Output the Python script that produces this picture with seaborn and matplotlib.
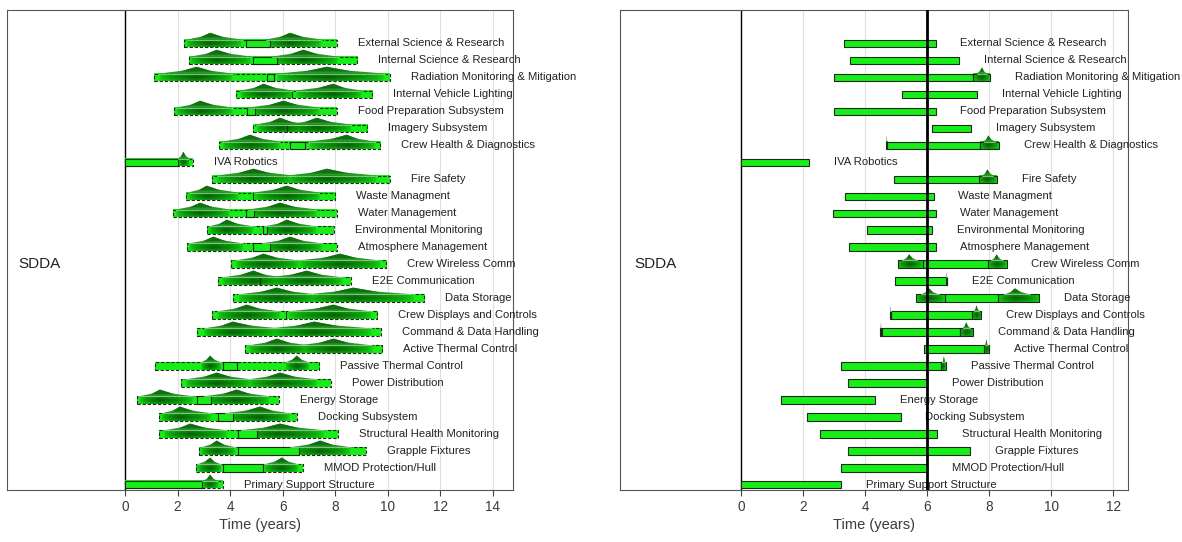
import numpy as np
import matplotlib
matplotlib.use("Agg")
import matplotlib.pyplot as plt
from matplotlib.patches import Polygon
from matplotlib.colors import to_rgb
import seaborn as sns

# ---------------------------------------------------------------- data
subsystems = [
    "External Science & Research", "Internal Science & Research",
    "Radiation Monitoring & Mitigation", "Internal Vehicle Lighting",
    "Food Preparation Subsystem", "Imagery Subsystem",
    "Crew Health & Diagnostics", "IVA Robotics", "Fire Safety",
    "Waste Managment", "Water Management", "Environmental Monitoring",
    "Atmosphere Management", "Crew Wireless Comm", "E2E Communication",
    "Data Storage", "Crew Displays and Controls", "Command & Data Handling",
    "Active Thermal Control", "Passive Thermal Control", "Power Distribution",
    "Energy Storage", "Docking Subsystem", "Structural Health Monitoring",
    "Grapple Fixtures", "MMOD Protection/Hull", "Primary Support Structure",
]

# Life-cycle view: overall span, fixed (certain) segments, split marks and
# triangular uncertainty distributions (low, mode, high) in years
life_start = [2.26, 2.45, 1.12, 4.24, 1.87, 4.86, 3.58, 0.00, 3.33, 2.31,
              1.84, 3.14, 2.37, 4.02, 3.55, 4.10, 3.30, 2.75, 4.55, 1.14,
              2.13, 0.47, 1.31, 1.31, 2.83, 2.70, 0.00]
life_end = [8.08, 8.85, 10.09, 9.42, 8.06, 9.23, 9.71, 2.58, 10.09, 8.00,
            8.06, 7.96, 8.06, 9.93, 8.60, 11.39, 9.61, 9.74, 9.77, 7.40,
            7.83, 5.86, 6.56, 8.12, 9.18, 6.77, 3.72]
life_fixed = [
    [(4.61, 5.52)], [(4.89, 5.78)], [(5.39, 5.67)], [], [(4.63, 4.95)], [],
    [(6.28, 6.85)], [(0.00, 2.03)], [], [], [(4.60, 4.91)], [(5.27, 5.42)],
    [(4.89, 5.52)], [], [], [], [], [], [], [(3.72, 4.28)], [],
    [(2.73, 3.26)], [(3.55, 4.13)], [(4.29, 5.01)], [(4.32, 6.64)],
    [(3.72, 5.27)], [(0.00, 2.92)],
]
life_marks = [
    [], [], [], [6.35], [], [6.16], [], [], [], [4.86], [], [], [], [],
    [5.14], [], [6.12], [], [], [], [], [], [], [], [], [], [],
]
life_hats = [
    [(2.35, 3.24, 4.45), (5.35, 6.28, 7.50)],
    [(2.50, 3.49, 4.80), (5.60, 6.79, 8.10)],
    [(1.30, 2.73, 4.10), (5.80, 7.68, 9.90)],
    [(4.40, 5.27, 6.40), (6.50, 7.93, 9.00)],
    [(1.95, 2.86, 4.10), (4.70, 6.03, 7.40)],
    [(5.00, 5.90, 7.00), (6.20, 7.30, 8.60)],
    [(3.70, 4.76, 5.90), (7.00, 8.44, 9.50)],
    [(2.03, 2.22, 2.45)],
    [(3.50, 4.89, 6.40), (6.20, 7.68, 9.60)],
    [(2.40, 3.11, 4.30), (4.90, 6.16, 7.40)],
    [(1.95, 2.86, 4.00), (4.70, 5.90, 7.30)],
    [(3.20, 3.87, 4.90), (5.30, 6.16, 7.30)],
    [(2.45, 3.36, 4.50), (5.20, 6.28, 7.50)],
    [(4.20, 5.27, 6.60), (6.60, 8.19, 9.70)],
    [(3.70, 4.89, 6.00), (5.40, 6.92, 8.30)],
    [(4.30, 5.78, 7.30), (6.90, 8.69, 11.00)],
    [(3.50, 4.63, 5.90), (6.20, 7.93, 9.40)],
    [(3.00, 4.10, 5.90), (5.50, 7.20, 9.40)],
    [(4.70, 5.78, 7.00), (6.60, 7.93, 9.40)],
    [(2.90, 3.24, 3.65), (6.10, 6.54, 7.00)],
    [(2.30, 3.49, 4.80), (4.70, 5.90, 7.30)],
    [(0.55, 1.33, 2.60), (3.00, 4.25, 5.50)],
    [(1.40, 2.09, 3.30), (3.80, 5.14, 6.30)],
    [(1.50, 2.48, 3.90), (4.40, 5.90, 7.60)],
    [(2.90, 3.49, 4.20), (6.30, 7.43, 8.60)],
    [(2.75, 3.24, 3.65), (5.30, 5.97, 6.60)],
    [(2.95, 3.24, 3.55)],
]

# Operations view: deterministic span plus uncertain end regions
ops_start = [3.32, 3.52, 2.98, 5.19, 2.99, 6.16, 4.70, 0.00, 4.92, 3.34,
             2.96, 4.07, 3.47, 5.85, 4.97, 6.57, 4.82, 4.51, 5.90, 3.23,
             3.45, 1.29, 2.13, 2.53, 3.45, 3.23, 0.00]
ops_end = [6.27, 7.02, 7.48, 7.62, 6.27, 7.42, 7.72, 2.18, 7.68, 6.21,
           6.27, 6.16, 6.27, 7.95, 6.64, 8.27, 7.45, 7.06, 7.83, 6.46,
           6.00, 4.33, 5.14, 6.32, 7.38, 6.00, 3.23]
ops_hats = [
    [], [], [(7.48, 7.77, 8.02)], [], [], [],
    [(4.68, 4.70, 4.72), (7.72, 7.97, 8.32)], [],
    [(7.68, 7.94, 8.26)], [], [], [], [],
    [(5.06, 5.42, 5.85), (7.95, 8.24, 8.56)],
    [(6.61, 6.63, 6.65)],
    [(5.65, 6.06, 6.57), (8.27, 8.83, 9.62)],
    [(4.80, 4.82, 4.84), (7.45, 7.59, 7.75)],
    [(4.49, 4.51, 4.53), (7.06, 7.26, 7.48)],
    [(7.83, 7.91, 8.00)],
    [(6.46, 6.54, 6.62)],
    [], [], [], [], [], [], [],
]

life_ticks = list(range(0, 15, 2))
ops_ticks = list(range(0, 13, 2))
group_label = "SDDA"
now_year = 6

# ---------------------------------------------------------------- style
sns.set_theme(style="white")
plt.rcParams["font.family"] = ["Liberation Sans", "DejaVu Sans"]
plt.rcParams["image.composite_image"] = False

LIME = np.array(to_rgb("#17ee17"))
DARK = np.array(to_rgb("#034f03"))
EDGE = "#1c2a1c"
HAT_LIGHT = "#2e952e"
HAT_DARK = "#107010"
BAR_H = 0.42

n = len(subsystems)
ypos = np.arange(n, 0, -1)


def tri_profile(xs, hats):
    v = np.zeros_like(xs)
    for lo, mode, hi in hats:
        up = np.clip((xs - lo) / max(mode - lo, 1e-6), 0, 1)
        dn = np.clip((hi - xs) / max(hi - mode, 1e-6), 0, 1)
        t = np.where(xs <= mode, up, dn)
        t[(xs < lo) | (xs > hi)] = 0
        v = np.maximum(v, t)
    return v


def shade(ax, x0, x1, y, hats, strength=0.9):
    xs = np.linspace(x0, x1, 300)
    v = tri_profile(xs, hats) ** 0.45
    ys = np.linspace(-1, 1, 11)
    f = 0.55 + 0.45 * (1 - np.abs(ys)) ** 0.6
    w = strength * v[None, :] * f[:, None]
    img = LIME[None, None, :] * (1 - w[..., None]) + DARK[None, None, :] * w[..., None]
    ax.imshow(img, extent=(x0, x1, y - BAR_H / 2, y + BAR_H / 2),
              aspect="auto", interpolation="bilinear", origin="lower",
              zorder=2)


def hat(ax, lo, mode, hi, ybase, hh):
    outer = [(lo, ybase), (mode - 0.35 * (mode - lo), ybase + 0.45 * hh),
             (mode, ybase + hh), (mode + 0.35 * (hi - mode), ybase + 0.45 * hh),
             (hi, ybase)]
    ax.add_patch(Polygon(outer, closed=True, facecolor=HAT_LIGHT,
                         edgecolor="none", zorder=4))
    inner = [(mode - 0.45 * (mode - lo), ybase + 0.3 * hh), (mode, ybase + hh),
             (mode + 0.45 * (hi - mode), ybase + 0.3 * hh)]
    ax.add_patch(Polygon(inner, closed=True, facecolor=HAT_DARK,
                         edgecolor="none", zorder=4.1))
    ax.plot([lo, hi], [ybase, ybase], color="#8fd88f", lw=0.6, zorder=4.2)


def frame(ax, ticks, xlim, label_x):
    ax.set_xlim(*xlim)
    ax.set_ylim(0.7, 28.95)
    ax.set_xticks(ticks)
    ax.set_xticklabels([str(t) for t in ticks])
    ax.set_yticks([])
    ax.grid(axis="x", color="#e0e0e0", lw=0.8)
    ax.grid(axis="y", visible=False)
    ax.set_axisbelow(True)
    ax.axvline(0, color="black", lw=1.0, zorder=1.5)
    ax.tick_params(axis="x", bottom=True, direction="out", length=4,
                   width=0.8, color="#444444", labelsize=9.8,
                   labelcolor="#3a3a3a", pad=3)
    for s in ax.spines.values():
        s.set_color("#555555")
        s.set_linewidth(0.8)
    ax.set_xlabel("Time (years)", fontsize=10.5, color="#3a3a3a", labelpad=3)
    ax.text(label_x, 14, group_label, fontsize=11, va="center", ha="left",
            color="#222222")


fig = plt.figure(figsize=(11.82, 5.42), dpi=100)
ax1 = fig.add_axes([0.0057, 0.0959, 0.4281, 0.8856])
ax2 = fig.add_axes([0.5245, 0.0959, 0.4296, 0.8856])

# ---------------------------------------------------------------- life-cycle panel
for i, name in enumerate(subsystems):
    y = ypos[i]
    s, e = life_start[i], life_end[i]
    shade(ax1, s, e, y, life_hats[i])
    ax1.barh(y, e - s, left=s, height=BAR_H, fill=False, edgecolor=EDGE,
             linestyle=(0, (3, 1.6)), linewidth=0.8, zorder=3)
    for a, b in life_fixed[i]:
        ax1.barh(y, b - a, left=a, height=BAR_H, color=LIME, edgecolor=EDGE,
                 linewidth=0.8, zorder=3.5)
    for m in life_marks[i]:
        ax1.vlines(m, y - BAR_H / 2, y + BAR_H / 2, color=EDGE, lw=0.8,
                   zorder=3.5)
    for lo, mode, hi in life_hats[i]:
        hat(ax1, lo, mode, hi, y + BAR_H / 2, 0.4)
    ax1.text(e + 0.8, y, name, fontsize=8.1, va="center", ha="left",
             color="#222222", zorder=5)

frame(ax1, life_ticks, (-4.5, 14.76), -4.07)

# ---------------------------------------------------------------- operations panel
for i, name in enumerate(subsystems):
    y = ypos[i]
    s, e = ops_start[i], ops_end[i]
    ax2.barh(y, e - s, left=s, height=BAR_H, color=LIME, edgecolor=EDGE,
             linewidth=0.8, zorder=3)
    right = e
    for lo, mode, hi in ops_hats[i]:
        shade(ax2, lo, hi, y, [(lo, mode, hi)])
        ax2.barh(y, hi - lo, left=lo, height=BAR_H, fill=False,
                 edgecolor=EDGE, linewidth=0.8, zorder=3.5)
        t_lo = mode - 0.6 * (mode - lo)
        t_hi = mode + 0.6 * (hi - mode)
        hat(ax2, t_lo, mode, t_hi, y + BAR_H / 2, 0.36)
        right = max(right, hi)
    ax2.text(right + 0.8, y, name, fontsize=8.1, va="center", ha="left",
             color="#222222", zorder=5)

ax2.axvline(now_year, color="black", lw=2.0, zorder=6)
frame(ax2, ops_ticks, (-3.91, 12.47), -3.45)

fig.savefig("out.png", dpi=100)
